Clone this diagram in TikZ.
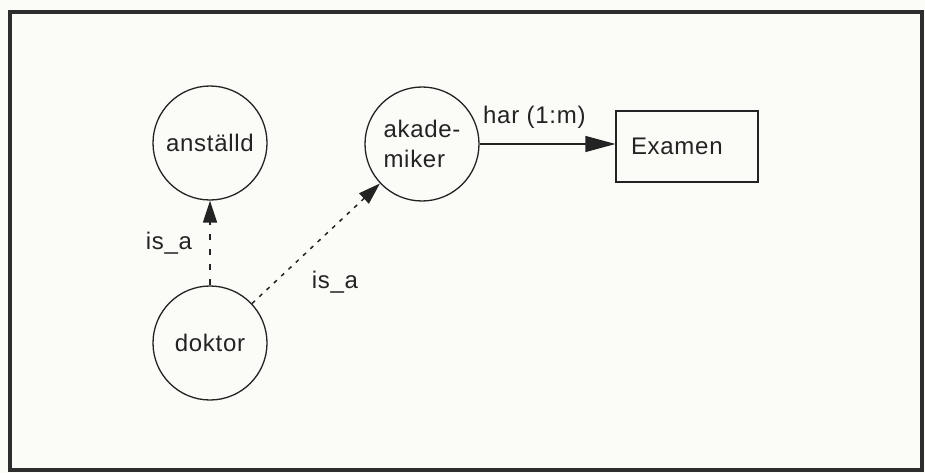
\documentclass[tikz,border=0pt]{standalone}
\usepackage{fontspec}
\setmainfont{Liberation Sans}[LetterSpace=3]
\usetikzlibrary{arrows.meta}

\definecolor{paper}{RGB}{251,251,248}
\definecolor{ink}{RGB}{35,35,35}
\definecolor{framegray}{RGB}{45,45,45}

\tikzset{
  entity/.style={draw=ink, circle, line width=1.3pt, minimum size=114pt, inner sep=0pt, align=left},
  table/.style={draw=ink, rectangle, line width=1.2pt, minimum width=142pt, minimum height=71pt,
                text width=112pt, inner xsep=15pt, align=left},
  rel/.style={draw=ink, line width=1.3pt, -{Triangle[length=30pt,width=16pt]}},
  isa/.style={draw=ink, line width=1.5pt, -{Triangle[length=22pt,width=14pt]}},
  lbl/.style={text=ink, inner sep=0pt},
}

\begin{document}
\begin{tikzpicture}[x=1pt, y=-1pt, font=\fontsize{24}{30}\selectfont, text=ink]
  \useasboundingbox (0,0) rectangle (925,473);
  \fill[paper] (0,0) rectangle (925,473);
  % outer frame
  \draw[framegray, line width=4pt] (9.5,12.5) rectangle (921.5,470);

  % entities
  \node[entity] (anstalld)   at (210,143) {anställd};
  \node[entity] (akademiker) at (422,144) {akade-\\miker};
  \node[entity] (doktor)     at (210,343) {doktor};
  \node[table]  (examen)     at (687,146.5) {Examen};

  % relationships
  \draw[rel] (akademiker.east) -- (akademiker.east -| examen.west);
  \node[lbl, anchor=base west] (har) at (483,124) {har (1:m)};

  \draw[isa, dash pattern=on 6pt off 9pt] (doktor) -- (anstalld);
  \draw[isa, dash pattern=on 4pt off 6pt] (doktor) -- (akademiker);
  \node[lbl] (isa1) at (169,243) {is\_a};
  \node[lbl] (isa2) at (335,282) {is\_a};
\end{tikzpicture}
\end{document}
